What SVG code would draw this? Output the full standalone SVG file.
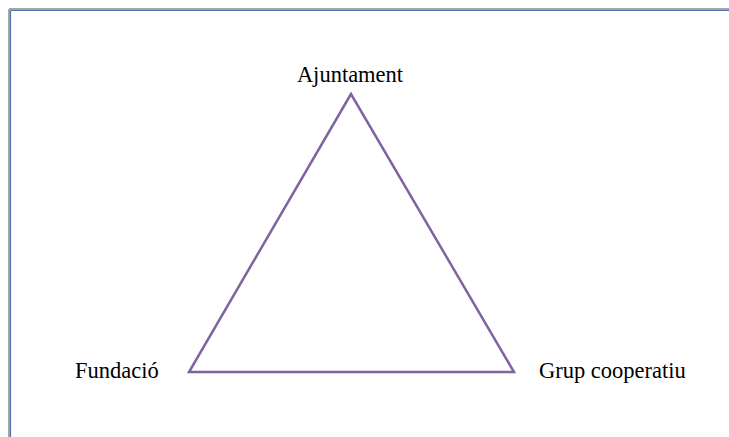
<svg xmlns="http://www.w3.org/2000/svg" width="729" height="437" viewBox="0 0 729 437">
<style>
.lbl{font-family:'Liberation Serif','Times New Roman','DejaVu Serif',serif;font-size:22.5px;fill:#000}
.edge{fill:none;stroke:#8064A2;stroke-width:2.5;stroke-linejoin:miter}
</style>
<rect width="729" height="437" fill="#fff"/>
<g id="frame">
<line x1="9" y1="9" x2="729" y2="9" stroke="#A6A6A6" stroke-width="2"/>
<line x1="9" y1="9" x2="9" y2="437" stroke="#A6A6A6" stroke-width="2"/>
<line x1="10.5" y1="10.5" x2="729" y2="10.5" stroke="#4F6FAF" stroke-width="1.2"/>
<line x1="10.5" y1="10.5" x2="10.5" y2="437" stroke="#4F6FAF" stroke-width="1.2"/>
</g>
<g id="connectors">
<polygon class="edge" points="351,94 189,372 514,372"/>
</g>
<g id="node-ajuntament"><text class="lbl" x="350" y="82" text-anchor="middle">Ajuntament</text></g>
<g id="node-fundacio"><text class="lbl" x="75" y="378">Fundació</text></g>
<g id="node-grup"><text class="lbl" x="539" y="378">Grup cooperatiu</text></g>
</svg>
